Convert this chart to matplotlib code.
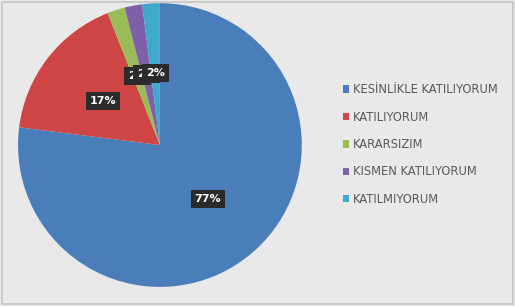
import numpy as np
import matplotlib.pyplot as plt
from matplotlib.patches import Rectangle

# survey answers and their shares (percent)
labels = ["KESİNLİKLE KATILIYORUM", "KATILIYORUM", "KARARSIZIM",
          "KISMEN KATILIYORUM", "KATILMIYORUM"]
shares = [77, 17, 2, 2, 2]
colors = ["#4a7ebb", "#cd4545", "#9bbb59", "#7f5fa8", "#3fa9c9"]

fig = plt.figure(figsize=(5.15, 3.06), dpi=100)
fig.patch.set_facecolor("#e9e9e9")
fig.patches.append(Rectangle((0.004, 0.006), 0.992, 0.988, transform=fig.transFigure,
                             fill=False, edgecolor="#c4c4c4", linewidth=1.2))

ax = fig.add_axes([0.035, 0.062, 0.551, 0.928])
wedges, texts, autotexts = ax.pie(shares, colors=colors, startangle=90, counterclock=False,
                                  autopct="%1.0f%%", pctdistance=0.51,
                                  wedgeprops=dict(linewidth=0))
for t in autotexts:
    t.set_color("white")
    t.set_fontsize(8)
    t.set_fontweight("bold")
    t.set_bbox(dict(boxstyle="square,pad=0.35", facecolor="#2b2b2b", edgecolor="none"))
ax.set_xlim(-1.0, 1.0)
ax.set_ylim(-1.0, 1.0)
ax.set_aspect("equal")

leg = fig.legend(wedges, labels, loc="upper left", bbox_to_anchor=(0.645, 0.762),
                 frameon=False, fontsize=8.3, handlelength=0.6, handleheight=0.6,
                 handletextpad=0.3, labelspacing=1.25, labelcolor="#5a5a5a")

plt.savefig("out.png", dpi=100, facecolor=fig.get_facecolor())
